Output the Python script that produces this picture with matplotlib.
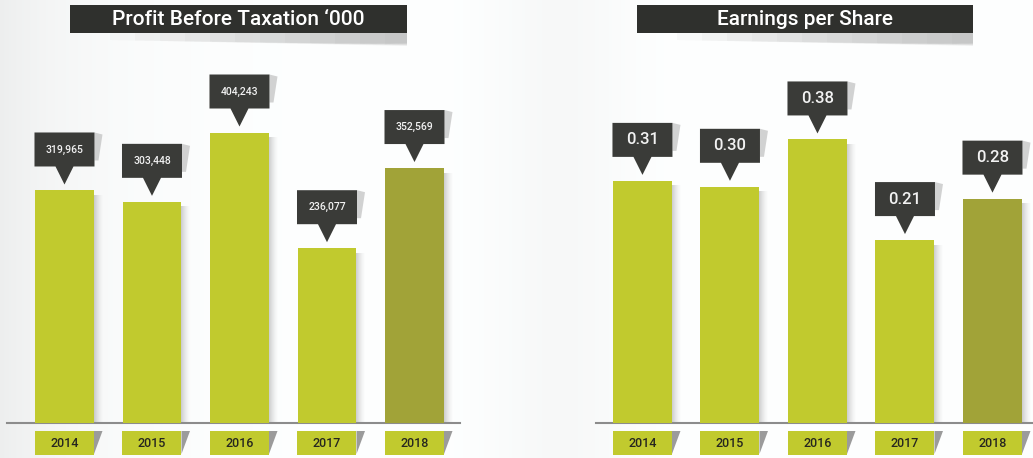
import matplotlib
matplotlib.use("Agg")
import matplotlib.pyplot as plt
import numpy as np
from matplotlib import transforms
from matplotlib.patches import Polygon, Rectangle

years = ["2014", "2015", "2016", "2017", "2018"]
pbt = [319965, 303448, 404243, 236077, 352569]
pbt_labels = ["319,965", "303,448", "404,243", "236,077", "352,569"]
eps = [0.31, 0.30, 0.38, 0.21, 0.28]
eps_labels = ["0.31", "0.30", "0.38", "0.21", "0.28"]

LIME = "#c1ca2e"
OLIVE = "#a1a338"
DARK = "#3a3b38"
TITLE_BG = "#2f302d"
FONT = ["Roboto", "DejaVu Sans"]

W, H = 1033, 458
fig = plt.figure(figsize=(W / 100, H / 100), dpi=100)


def px_axes(x0, y0, x1, y1):
    """Axes placed by pixel box (top-left origin)."""
    return fig.add_axes([x0 / W, 1 - y1 / H, (x1 - x0) / W, (y1 - y0) / H])


# background: soft grey fading to white
bg = px_axes(0, 0, W, H)
bg.set_xlim(0, W)
bg.set_ylim(H, 0)
bg.axis("off")
xs = np.arange(W)
col = 1 - 0.065 * np.exp(-xs / 90) - 0.025 * np.exp(-((xs - 560) / 70) ** 2)
grad = np.tile(col, (H, 1))
bg.imshow(np.dstack([grad * 0.995, grad, grad]), extent=(0, W, H, 0),
          aspect="auto", interpolation="bilinear", zorder=0)


def title_box(x0, x1, text):
    # shadow under the banner
    for k in range(12):
        a = 0.05 + 0.02 * k
        bg.add_patch(Polygon([(x0 + 40 + k * 25, 33), (x1, 33), (x1, 46 - k * 0.3),
                              (x0 + 40 + k * 25, 40 + k * 0.4)],
                             closed=True, color="#9a9a9a", alpha=0.06, lw=0, zorder=1))
    bg.add_patch(Rectangle((x0, 5), x1 - x0, 28, color=TITLE_BG, lw=0, zorder=2))
    bg.text((x0 + x1) / 2, 19.5, text, color="white", fontsize=15, family=FONT,
            fontweight="medium", ha="center", va="center", zorder=3)


title_box(70, 407, "Profit Before Taxation \u2018000")
title_box(637, 973, "Earnings per Share")


def px_at(ax, xd, yd):
    """Pixel-unit transform anchored at a data point."""
    return transforms.Affine2D() + transforms.ScaledTranslation(xd, yd, ax.transData)


def bar_panel(box, xlim, ylim, values, labels, colors, label_size):
    ax = px_axes(*box)
    ax.set_facecolor("none")
    ax.set_xlim(*xlim)
    ax.set_ylim(*ylim)
    base = ylim[0]
    x = np.arange(len(values))
    w = 0.674
    heights = np.array(values) - base
    ax.bar(x, heights, bottom=base, width=w, color=colors, zorder=3)
    for s in ["top", "left", "right"]:
        ax.spines[s].set_visible(False)
    ax.spines["bottom"].set_color("#8c8c8c")
    ax.spines["bottom"].set_linewidth(1.5)
    ax.set_xticks([])
    ax.set_yticks([])

    for i, v in enumerate(values):
        # soft shadow right of each bar
        sh = transforms.blended_transform_factory(
            transforms.Affine2D() + transforms.ScaledTranslation(i + w / 2, 0, ax.transData),
            ax.transData)
        top = v - (ylim[1] - ylim[0]) * 0.012
        for k in range(9):
            ax.add_patch(Rectangle((k, base), 1, top - base, transform=sh,
                                   color="#6f6f6f", alpha=0.32 * (1 - k / 9) ** 1.5,
                                   lw=0, zorder=2, clip_on=False))

        # callout box with pointer
        t = px_at(ax, i, v)
        ax.add_patch(Polygon([(30, 58), (38, 56), (34, 30), (30, 30)], closed=True,
                             transform=t, color="#b5b5b5", alpha=0.6, lw=0,
                             zorder=4, clip_on=False))
        ax.add_patch(Polygon([(-30, 24), (-30, 58), (30, 58), (30, 24), (9, 24), (0, 6),
                              (-9, 24)], closed=True, transform=t, color=DARK, lw=0,
                             zorder=5, clip_on=False))
        ax.text(0, 41, labels[i], transform=t, color="#f2f2f2", fontsize=label_size,
                family=FONT, fontweight="medium", ha="center", va="center",
                zorder=6, clip_on=False)

        # year label box under the axis
        tb = px_at(ax, i, base)
        ax.add_patch(Polygon([(29.5, -8), (38, -8), (29.5, -31)], closed=True,
                             transform=tb, color="#9b9b9b", lw=0, zorder=2,
                             clip_on=False))
        ax.add_patch(Rectangle((-29.5, -32), 59, 24, transform=tb, color=LIME, lw=0,
                               zorder=3, clip_on=False))
        ax.text(0, -20.5, years[i], transform=tb, color="#26261f", fontsize=9,
                family=FONT, fontweight="medium", ha="center", va="center",
                zorder=4, clip_on=False)
    return ax


bar_colors = [LIME, LIME, LIME, LIME, OLIVE]
bar_panel((7, 40, 460, 423), (-0.657, 4.52), (-18000, 538700), pbt, pbt_labels,
          bar_colors, 7.5)
bar_panel((596, 40, 1033, 423), (-0.531, 4.463), (-0.099, 0.548), eps, eps_labels,
          bar_colors, 12)

fig.savefig("out.png", dpi=100)
